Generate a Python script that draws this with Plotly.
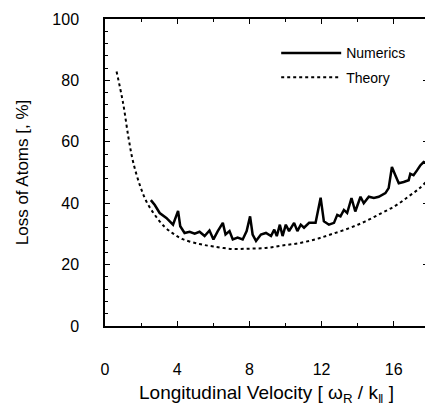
import plotly.graph_objects as go

x_theory = [0.64, 1.0, 1.3, 1.56, 1.93, 2.3, 2.76, 3.3, 3.8, 4.3, 5.24, 6.0, 7.06, 8.0, 8.9, 9.8, 10.76, 11.7, 12.5, 13.5, 14.4, 15.3, 16.1, 16.8, 17.4, 17.9]
y_theory = [82.9, 72.7, 61.4, 53.4, 45.9, 40.5, 36.2, 32.3, 30.0, 28.3, 26.7, 25.9, 25.1, 25.2, 25.4, 26.2, 27.0, 28.3, 29.8, 31.8, 34.0, 36.7, 39.2, 42.1, 44.7, 47.6]

x_num = [2.54, 2.76, 3.03, 3.4, 3.77, 4.05, 4.17, 4.41, 4.69, 4.97, 5.24, 5.52, 5.79, 6.01, 6.25,
         6.53, 6.68, 6.9, 7.08, 7.35, 7.63, 7.85, 8.04, 8.18, 8.37, 8.64, 8.92, 9.2, 9.38, 9.52,
         9.69, 9.84, 10.02, 10.2, 10.48, 10.66, 10.85, 11.03, 11.31, 11.67, 11.95, 12.13, 12.41,
         12.69, 12.87, 13.05, 13.24, 13.42, 13.66, 13.87, 14.16, 14.34, 14.62, 14.9, 15.17, 15.54,
         15.72, 15.9, 16.09, 16.28, 16.55, 16.83, 16.92, 17.1, 17.29, 17.47, 17.66, 17.84]
y_num = [41.0, 39.4, 36.8, 35.2, 33.0, 37.5, 32.5, 30.3, 30.7, 30.1, 30.7, 29.3, 31.1, 28.2, 30.9,
         33.6, 29.8, 30.9, 28.2, 28.8, 28.2, 30.9, 35.7, 29.8, 27.7, 29.8, 30.3, 29.3, 31.4, 29.3,
         33.0, 29.3, 33.0, 30.9, 33.6, 30.9, 33.0, 32.0, 33.6, 33.6, 41.8, 34.1, 33.0,
         33.6, 36.2, 35.7, 37.8, 36.8, 41.7, 37.3, 42.1, 40.0, 42.1, 41.7, 42.1, 43.3,
         44.9, 51.8, 49.1, 46.5, 46.9, 47.5, 49.6, 49.1, 50.7, 52.3, 53.4, 52.9]

x_ticks = [0, 4, 8, 12, 16]
y_ticks = [0, 20, 40, 60, 80, 100]

fig = go.Figure()
fig.add_trace(go.Scatter(x=x_num, y=y_num, mode="lines", name="Numerics", legendgroup="a",
                         line=dict(color="black", width=2.5)))
fig.add_trace(go.Scatter(x=x_theory, y=y_theory, mode="lines", name="Theory", legendgroup="b",
                         line=dict(color="black", width=2, dash="dot", shape="spline")))

axis_common = dict(showgrid=False, zeroline=False, showline=True, linecolor="black", linewidth=1.5,
                   mirror="ticks", ticks="inside", ticklen=5, tickcolor="black", tickwidth=1,
                   ticklabeloverflow="allow",
                   tickfont=dict(size=16, color="black"))
fig.update_xaxes(range=[0, 17.9], tickvals=x_ticks, ticklabelstandoff=28,
                 minor=dict(dtick=2, ticks="inside", ticklen=3, tickcolor="black"),
                 title=dict(text="Longitudinal Velocity [ ω<sub>R</sub> / k<sub>ǁ</sub> ]",
                            font=dict(size=19, color="black"), standoff=12),
                 **axis_common)
fig.update_yaxes(range=[0, 100], tickvals=y_ticks, ticklabelposition="outside",
                 ticklabelstandoff=21,
                 minor=dict(dtick=4, ticks="inside", ticklen=3, tickcolor="black"),
                 title=dict(text="Loss of Atoms [, %]", font=dict(size=17, color="black"), standoff=19),
                 **axis_common)

# Page body has an 8px margin; offset the figure size/margins so the plot area lands in place.
fig.update_layout(width=425, height=398, margin=dict(l=97, r=3, t=7, b=80),
                  plot_bgcolor="white", paper_bgcolor="white",
                  font=dict(family="Liberation Sans, Arial, sans-serif", color="black"),
                  showlegend=True,
                  legend=dict(x=0.53, y=0.94, xanchor="left", yanchor="top", traceorder="grouped",
                              bgcolor="rgba(0,0,0,0)", font=dict(size=14, color="black"),
                              itemwidth=60, tracegroupgap=3))

fig.write_html("out.html")
